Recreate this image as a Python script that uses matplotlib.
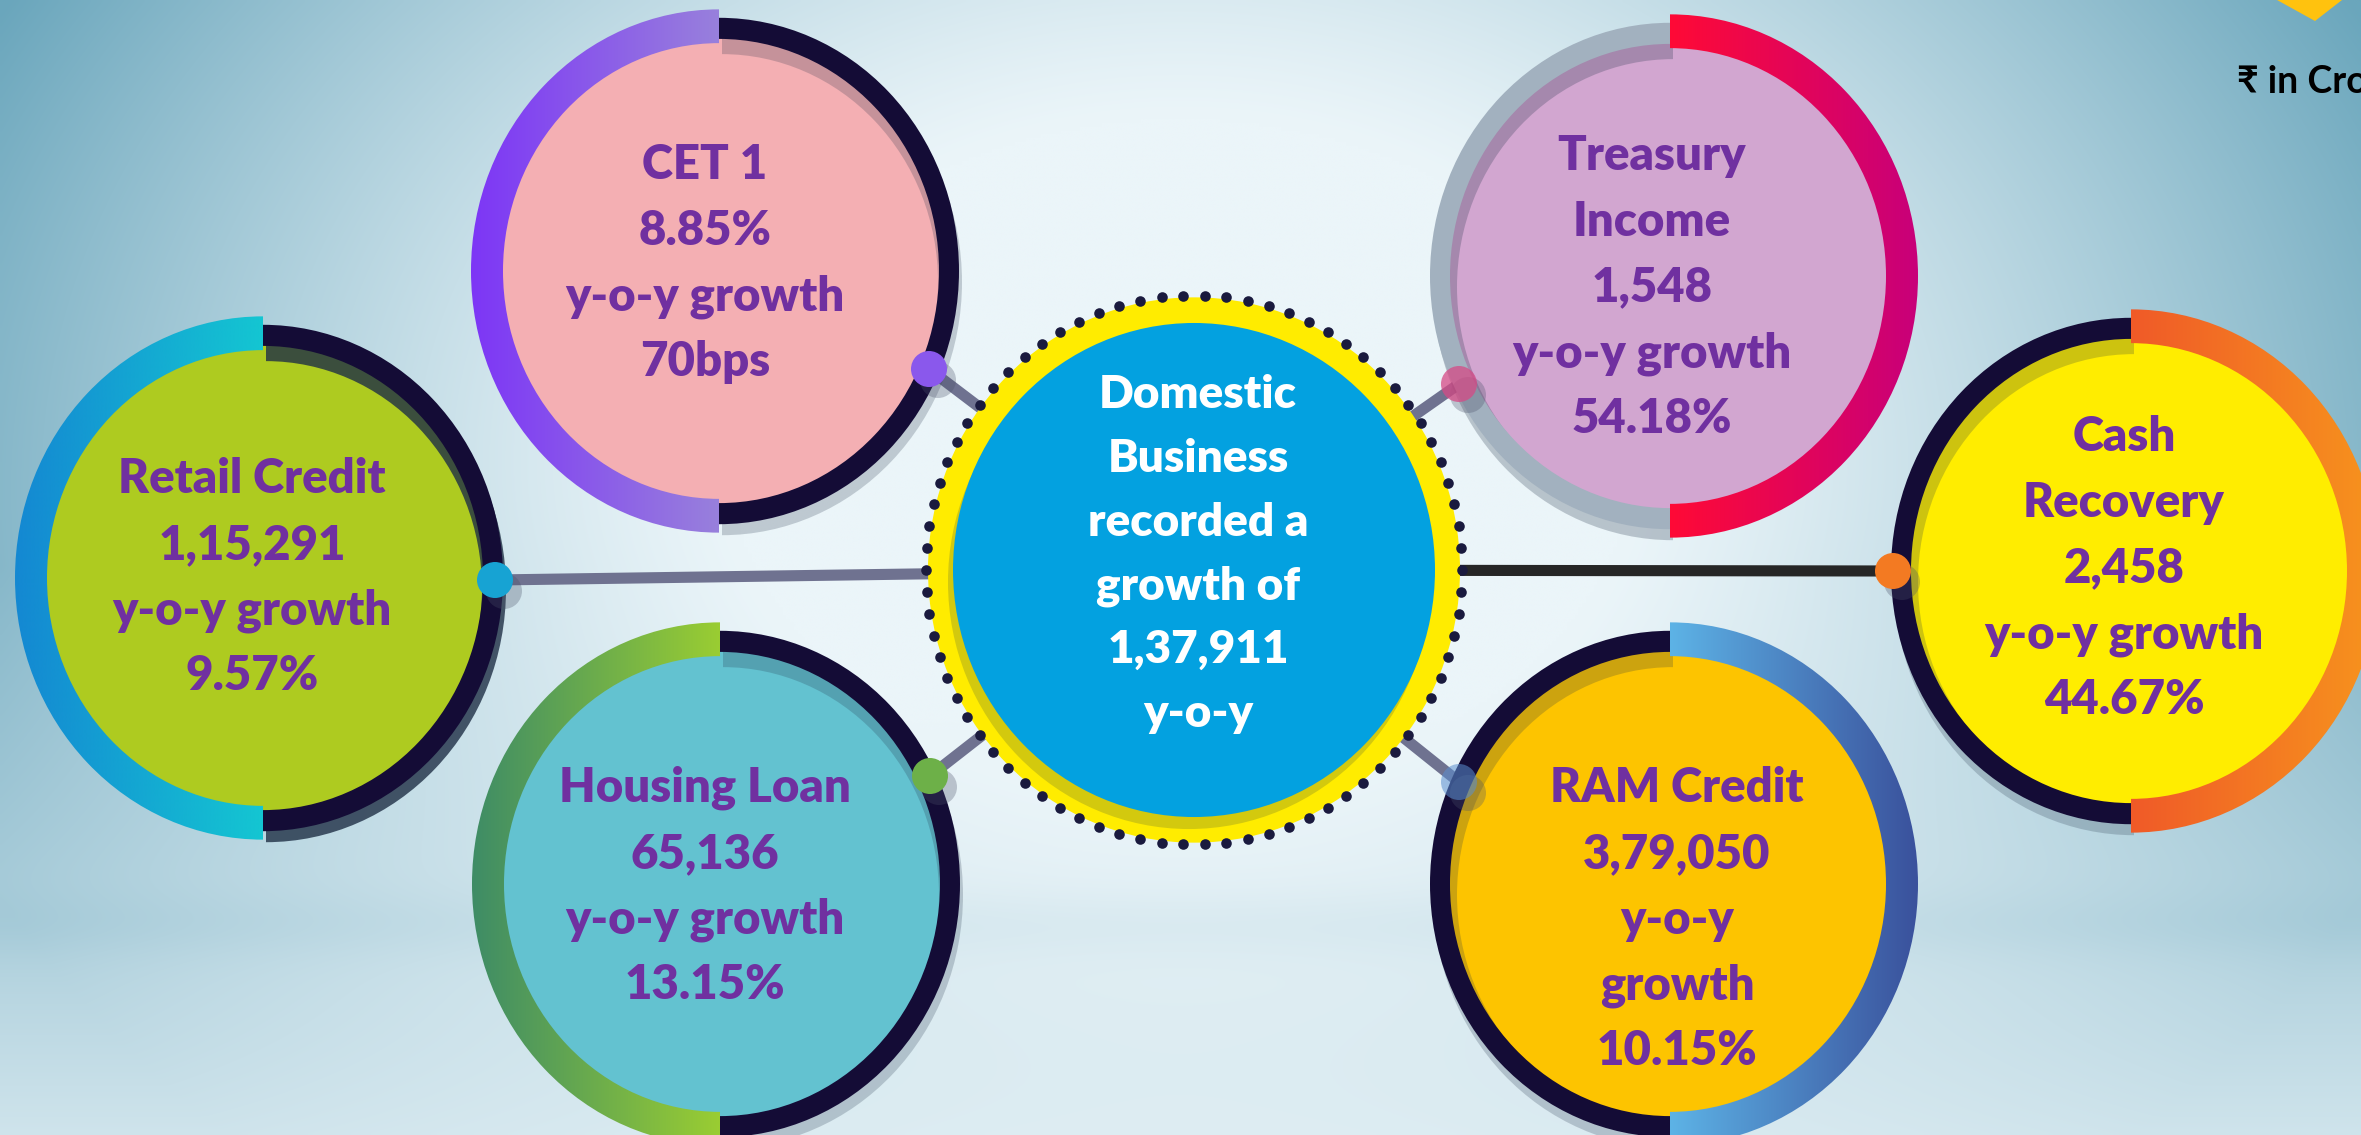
import numpy as np
import matplotlib
matplotlib.use("Agg")
import matplotlib.pyplot as plt
from matplotlib.patches import Wedge, Circle, Polygon
from matplotlib.transforms import Affine2D
from matplotlib.colors import LinearSegmentedColormap, to_rgb

# ---------------- data ----------------
metric_titles = [["CET 1"], ["Treasury", "Income"], ["Retail Credit"],
                 ["Cash", "Recovery"], ["Housing Loan"], ["RAM Credit"]]
metric_values = ["8.85%", "1,548", "1,15,291", "2,458", "65,136", "3,79,050"]
metric_growth = ["70bps", "54.18%", "9.57%", "44.67%", "13.15%", "10.15%"]
growth_label = "y-o-y growth"
center_lines = ["Domestic", "Business", "recorded a", "growth of"]
center_value = "1,37,911"
center_suffix = "y-o-y"
unit_label = "\u20b9 in Crore"

# ---------------- layout / style ----------------
W, H = 2361, 1135
centers = [(719, 271), (1670, 276), (263, 578), (2131, 571), (720, 884), (1670, 884)]
sides = ['L', 'R', 'L', 'R', 'L', 'R']
fill_cols = ['#F4AFB3', '#D2A6D0', '#AECB20', '#FFED00', '#63C2D0', '#FDC400']
grad_split = ['#9880DC', '#FF0A36', '#14C6D2', '#F05A28', '#9ACD32', '#5DB3E6']
grad_outer = ['#7D36F6', '#C8007A', '#1488D2', '#F7941D', '#3E8C66', '#3A519C']
ring_cols = ['#140C36', '#A2B1BF', '#140C36', '#140C36', '#140C36', '#140C36']
shadow_alpha = [0.22, 0.25, 0.8, 0.22, 0.22, 0.22]
dots = [(929, 369), (1459, 384), (495, 580), (1893, 571), (930, 776), (1459, 782)]
dot_cols = ['#8A58EC', '#D64A86', '#17A3D3', '#F37A22', '#6DB048', '#5A8FD0']
dot_alpha = [1, 0.75, 1, 1, 1, 0.55]
line_cols = ['#6F7290', '#6F7290', '#6F7290', '#262626', '#6F7290', '#6F7290']
text_x = [705, 1652, 252, 2124, 705, 1677]
text_y0 = [179, 170, 493, 451, 802, 802]
wrap_growth = [False, False, False, False, False, True]
LINE_DY = 65.8
TXT_COL = '#7030A0'
FS = 34
WEIGHT = 800
FONT = ['Lato', 'DejaVu Sans']

K = 1.055
R_COL_OUT, R_COL_IN = 248, 216
R_DARK_OUT, R_DARK_IN = 240, 220
R_FILL = 222

CC = (1194, 570)
KC = 1.025

fig = plt.figure(figsize=(W / 100, H / 100), dpi=100)
ax = fig.add_axes([0, 0, 1, 1])
ax.set_axis_off()

# ---------------- background ----------------
gy, gx = np.mgrid[0:1:300j, 0:1:620j]
d = np.sqrt(((gx - 0.5) / 0.55) ** 2 + ((gy - 0.40) / 0.85) ** 2)
t = np.clip((d - 0.35) / 0.67, 0, 1) ** 1.2
att = np.interp(gy, [0.0, 0.5, 0.8, 1.0], [1.0, 0.95, 0.5, 0.22])
t = t * att
t = t + 0.06 * np.exp(-((gy - 0.815) / 0.03) ** 2)
t = np.clip(t, 0, 1)
light = np.array(to_rgb('#EBF5F9'))
dark = np.array(to_rgb('#6AA6BC'))
bg = light[None, None, :] * (1 - t[..., None]) + dark[None, None, :] * t[..., None]
ax.imshow(bg, extent=(0, W, H, 0), aspect='auto', interpolation='bilinear', zorder=0)


def local_tr(cx, cy, k):
    return Affine2D().scale(1, k).translate(cx, cy) + ax.transData


def half_ring(cx, cy, k, r_out, r_in, side, **kw):
    t1, t2 = (90, 270) if side == 'L' else (-90, 90)
    tr = local_tr(cx, cy, k)
    w = Wedge((0, 0), r_out, t1, t2, width=r_out - r_in, transform=tr, **kw)
    ax.add_patch(w)
    return w, tr


def grad_half_ring(cx, cy, k, r_out, r_in, side, c_split, c_outer, z):
    w, tr = half_ring(cx, cy, k, r_out, r_in, side, facecolor='none',
                      edgecolor='none', zorder=z)
    if side == 'L':
        cmap = LinearSegmentedColormap.from_list('g', [c_outer, c_split])
        ext = (-r_out, 0, -r_out, r_out)
    else:
        cmap = LinearSegmentedColormap.from_list('g', [c_split, c_outer])
        ext = (0, r_out, -r_out, r_out)
    im = ax.imshow(np.linspace(0, 1, 256)[None, :], cmap=cmap, extent=ext,
                   transform=tr, zorder=z, aspect='auto', interpolation='bilinear')
    im.set_clip_path(w)


# ---------------- connector lines ----------------
for (dx, dy), lc in zip(dots, line_cols):
    ax.plot([dx, CC[0]], [dy, CC[1]], color=lc, lw=8, solid_capstyle='butt', zorder=1)

# ---------------- satellite circles ----------------
for i in range(6):
    cx, cy = centers[i]
    side = sides[i]
    other = 'R' if side == 'L' else 'L'
    tr = local_tr(cx, cy, K)
    ax.add_patch(Circle((0, 0), R_FILL, transform=tr, facecolor=fill_cols[i],
                        edgecolor='none', zorder=2))
    half_ring(cx + 3, cy + 11, K, R_DARK_OUT, R_DARK_IN - 4, other,
              facecolor='#1F2F45', edgecolor='none', alpha=shadow_alpha[i], zorder=2.1)
    half_ring(cx, cy, K, R_DARK_OUT, R_DARK_IN, other,
              facecolor=ring_cols[i], edgecolor='none', zorder=2.2)
    grad_half_ring(cx, cy, K, R_COL_OUT, R_COL_IN, side,
                   grad_split[i], grad_outer[i], 2.3)

    px, py = dots[i]
    ax.add_patch(Circle((px + 9, py + 11), 18, facecolor='#4A5068', alpha=0.3,
                        edgecolor='none', zorder=4))
    ax.add_patch(Circle((px, py), 18, facecolor=dot_cols[i], alpha=dot_alpha[i],
                        edgecolor='none', zorder=4.1))

    lines = list(metric_titles[i]) + [metric_values[i]]
    if wrap_growth[i]:
        lines += growth_label.split(' ')
    else:
        lines += [growth_label]
    lines += [metric_growth[i]]
    for j, ln in enumerate(lines):
        ax.text(text_x[i], text_y0[i] + j * LINE_DY, ln, ha='center', va='baseline',
                fontsize=FS, fontweight=WEIGHT, color=TXT_COL, family=FONT, zorder=6)

# ---------------- center circle ----------------
trc = local_tr(CC[0], CC[1], KC)
ax.add_patch(Circle((0, 0), 266, transform=trc, facecolor='#FFEC00',
                    edgecolor='none', zorder=3))
ax.add_patch(Circle((0, 0), 241, transform=local_tr(CC[0] - 5, CC[1] + 12, KC),
                    facecolor='#D3C90E', edgecolor='none', zorder=3.1))
ax.add_patch(Circle((0, 0), 241, transform=trc, facecolor='#03A1E0',
                    edgecolor='none', zorder=3.2))
n_dots = 78
ang = np.linspace(0, 2 * np.pi, n_dots, endpoint=False)
ax.scatter(CC[0] + 268 * np.cos(ang), CC[1] + 268 * KC * np.sin(ang), s=58,
           color='#1A1A3E', linewidths=0, zorder=3.3)

c_lines = center_lines + [center_value, center_suffix]
for j, ln in enumerate(c_lines):
    ax.text(1198, 408 + j * 63.8, ln, ha='center', va='baseline', fontsize=FS - 1,
            fontweight=WEIGHT, color='white', family=FONT, zorder=6)

# ---------------- corner decorations ----------------
ax.add_patch(Polygon([(2277, 0), (2315, 21), (2342, 0)], closed=True,
                     facecolor='#FFC20E', edgecolor='none', zorder=5))
ax.text(2237, 93, unit_label, ha='left', va='baseline', fontsize=27,
        fontweight='bold', color='black', family=FONT, zorder=6)

ax.set_xlim(0, W)
ax.set_ylim(H, 0)
fig.savefig('out.png', dpi=100)
